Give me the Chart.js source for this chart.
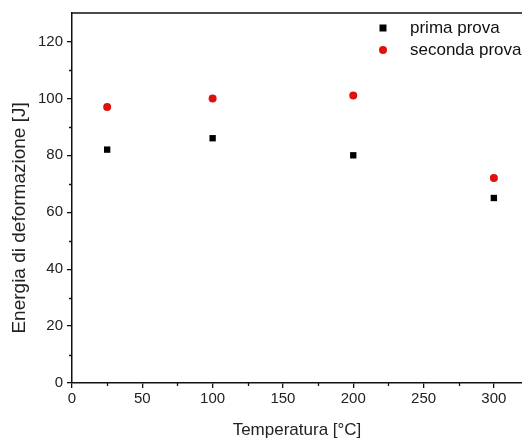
<!DOCTYPE html>
<html>
<head>
<meta charset="utf-8">
<script src="https://cdn.jsdelivr.net/npm/chart.js@4"></script>
<style>
  html, body { margin: 0; padding: 0; background: #fff; }
  #wrap { width: 522px; height: 441px; }
</style>
</head>
<body>
<div id="wrap"><canvas id="energyChart"></canvas></div>
<script>
var temperature = [25, 100, 200, 300];
var primaProva = [82, 86, 80, 65];
var secondaProva = [97, 100, 101, 72];
var seriesNames = ['prima prova', 'seconda prova'];
var yTitle = 'Energia di deformazione [J]';

function toPoints(xs, ys) {
    return xs.map(function(x, i) { return { x: x, y: ys[i] }; });
}

var fontFam = '"Liberation Sans", Arial, sans-serif';

// minor ticks, top frame line, y title and legend inside the plot
var decorPlugin = {
    id: 'decor',
    afterDraw: function(chart) {
        var ctx = chart.ctx;
        var area = chart.chartArea;
        var xs = chart.scales.x, ys = chart.scales.y;
        ctx.save();
        ctx.strokeStyle = '#111';
        ctx.lineWidth = 1.3;
        ctx.beginPath();
        for (var v = 10; v < 130; v += 20) {
            var py = Math.round(ys.getPixelForValue(v)) + 0.5;
            ctx.moveTo(area.left - 3, py);
            ctx.lineTo(area.left, py);
        }
        for (var u = 25; u < 320; u += 50) {
            var px = Math.round(xs.getPixelForValue(u)) + 0.5;
            ctx.moveTo(px, area.bottom);
            ctx.lineTo(px, area.bottom + 3);
        }
        ctx.stroke();
        ctx.lineWidth = 1.5;
        ctx.beginPath();
        ctx.moveTo(area.left, area.top);
        ctx.lineTo(area.right, area.top);
        ctx.stroke();

        // y axis title, sits a bit lower than the plot centre
        ctx.save();
        ctx.translate(20, ys.getPixelForValue(58));
        ctx.rotate(-Math.PI / 2);
        ctx.font = '19px ' + fontFam;
        ctx.fillStyle = '#222';
        ctx.textAlign = 'center';
        ctx.textBaseline = 'middle';
        ctx.fillText(yTitle, 0, 0);
        ctx.restore();

        // legend
        ctx.font = '17px ' + fontFam;
        ctx.textBaseline = 'middle';
        chart.data.datasets.forEach(function(ds, i) {
            var ly = area.top + 15 + i * 22;
            var lx = 383;
            ctx.fillStyle = ds.backgroundColor;
            if (ds.pointStyle === 'rect') {
                ctx.fillRect(lx - 3.5, ly - 3.5, 7, 7);
            } else {
                ctx.beginPath();
                ctx.arc(lx, ly, 4, 0, Math.PI * 2);
                ctx.fill();
            }
            ctx.fillStyle = '#111';
            ctx.fillText(ds.label, 410, ly);
        });
        ctx.restore();
    }
};

var ctx = document.getElementById('energyChart').getContext('2d');
var energyChart = new Chart(ctx, {
    type: 'scatter',
    data: {
        datasets: [{
            label: seriesNames[0],
            data: toPoints(temperature, primaProva),
            backgroundColor: '#000000',
            borderColor: '#000000',
            pointStyle: 'rect',
            pointRadius: 4.5,
            borderWidth: 0
        }, {
            label: seriesNames[1],
            data: toPoints(temperature, secondaProva),
            backgroundColor: '#e01010',
            borderColor: '#e01010',
            pointStyle: 'circle',
            pointRadius: 4,
            borderWidth: 0
        }]
    },
    options: {
        responsive: true,
        maintainAspectRatio: false,
        animation: false,
        layout: { autoPadding: false, padding: { top: 12, right: 0, left: 0, bottom: 0 } },
        scales: {
            x: {
                type: 'linear',
                min: 0,
                max: 320,
                afterFit: function(scale) {
                    scale.height = 58;
                    scale.paddingRight = 0;
                    scale.paddingLeft = 0;
                },
                afterBuildTicks: function(scale) {
                    scale.ticks = [0, 50, 100, 150, 200, 250, 300].map(function(v) { return { value: v }; });
                },
                grid: { drawOnChartArea: false, tickLength: 5, color: '#111', lineWidth: 1.3 },
                border: { color: '#111', width: 1.5 },
                ticks: { color: '#222', padding: 2, font: { size: 15, family: fontFam } },
                title: {
                    display: true,
                    text: 'Temperatura [°C]',
                    color: '#222',
                    padding: { top: 4, bottom: 0 },
                    font: { size: 17, family: fontFam }
                }
            },
            y: {
                min: 0,
                max: 130,
                afterFit: function(scale) { scale.width = 72; },
                afterBuildTicks: function(scale) {
                    scale.ticks = [0, 20, 40, 60, 80, 100, 120].map(function(v) { return { value: v }; });
                },
                grid: { drawOnChartArea: false, tickLength: 5, color: '#111', lineWidth: 1.3 },
                border: { color: '#111', width: 1.5 },
                ticks: { color: '#222', padding: 4, font: { size: 15, family: fontFam } },
                title: { display: false }
            }
        },
        plugins: {
            legend: { display: false },
            tooltip: { enabled: false }
        }
    },
    plugins: [decorPlugin]
});
</script>
</body>
</html>
